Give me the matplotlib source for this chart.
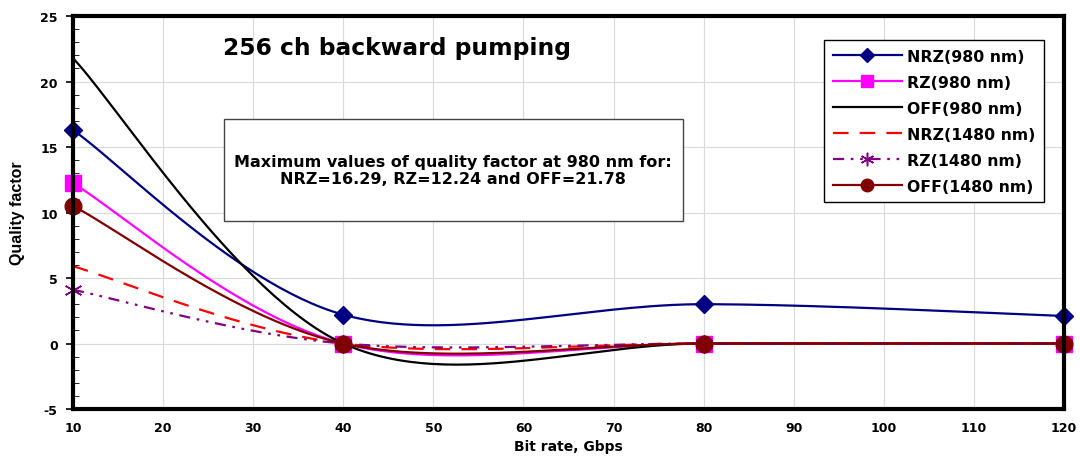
import numpy as np
import matplotlib.pyplot as plt
from matplotlib.patches import Rectangle

plt.rcParams['font.family'] = ['DejaVu Sans']
plt.rcParams['font.weight'] = 'bold'
plt.rcParams['axes.unicode_minus'] = False

# Bit rates (Gbps) and Q-factor for each modulation / pump wavelength
bit_rate = [10, 40, 80, 120]
nrz_980 = [16.29, 2.2, 3.0, 2.1]
rz_980 = [12.24, 0.0, 0.0, 0.0]
off_980 = [21.78, 0.0, 0.0, 0.0]
nrz_1480 = [5.9, 0.0, 0.0, 0.0]
rz_1480 = [4.1, 0.0, 0.0, 0.0]
off_1480 = [10.5, 0.0, 0.0, 0.0]

labels = ['NRZ(980 nm)', 'RZ(980 nm)', 'OFF(980 nm)',
          'NRZ(1480 nm)', 'RZ(1480 nm)', 'OFF(1480 nm)']


def smooth(xs, ys, n=60):
    """Spreadsheet-style smoothed line: cubic Bezier through each point."""
    p = np.column_stack([xs, ys]).astype(float)
    p_ext = np.vstack([p[0], p, p[-1]])
    out = []
    for i in range(len(p) - 1):
        p0, p1, p2, p3 = p_ext[i], p_ext[i + 1], p_ext[i + 2], p_ext[i + 3]
        c1 = p1 + (p2 - p0) / 6.0
        c2 = p2 - (p3 - p1) / 6.0
        t = np.linspace(0, 1, n, endpoint=False)[:, None]
        seg = ((1 - t) ** 3 * p1 + 3 * (1 - t) ** 2 * t * c1
               + 3 * (1 - t) * t ** 2 * c2 + t ** 3 * p2)
        out.append(seg)
    out.append(p[-1:])
    curve = np.vstack(out)
    marks = list(range(0, n * (len(p) - 1) + 1, n))
    return curve[:, 0], curve[:, 1], marks


fig = plt.figure(figsize=(10.8, 4.6), dpi=100)
ax = fig.add_axes([0.0676, 0.1087, 0.9176, 0.8543])

styles = [
    dict(color='#000080', marker='D', ms=9, ls='-', mew=1),
    dict(color='#ff00ff', marker='s', ms=11, ls='-', mew=1),
    dict(color='black', marker=None, ms=0, ls='-', mew=1),
    dict(color='#ff0000', marker=None, ms=0, ls=(0, (7, 5)), mew=1),
    dict(color='#800080', marker=(6, 2, 0), ms=13, ls=(0, (5, 3, 1.2, 3, 1.2, 3)), mew=1.1),
    dict(color='#800000', marker='o', ms=12, ls='-', mew=1),
]
series = [nrz_980, rz_980, off_980, nrz_1480, rz_1480, off_1480]

for ys, lab, st in zip(series, labels, styles):
    cx, cy, marks = smooth(bit_rate, ys)
    ax.plot(cx, cy, color=st['color'], ls=st['ls'], lw=1.6,
            marker=st['marker'], markersize=st['ms'], markevery=marks,
            markeredgecolor=st['color'], markeredgewidth=st['mew'],
            label=lab, zorder=3, clip_on=False)

ax.set_xlim(10, 120)
ax.set_ylim(-5, 25)
ax.set_xticks(np.arange(10, 121, 10))
ax.set_yticks(np.arange(-5, 26, 5))
ax.set_yticks(np.arange(-5, 26, 1), minor=True)
ax.grid(True, color='#d9d9d9', lw=0.8)
ax.set_axisbelow(True)
ax.tick_params(axis='both', labelsize=9, width=1.2)
ax.tick_params(axis='y', which='major', direction='out', length=5, pad=6)
ax.tick_params(axis='y', which='minor', direction='in', length=4)
ax.tick_params(axis='x', which='major', length=0, pad=9)
for lbl in ax.get_xticklabels() + ax.get_yticklabels():
    lbl.set_fontweight('bold')
for sp in ax.spines.values():
    sp.set_linewidth(3)
    sp.set_zorder(4)

ax.set_xlabel('Bit rate, Gbps', fontsize=10, fontweight='bold', labelpad=3)
ax.set_ylabel('Quality factor', fontsize=11.5, fontweight='bold',
              family=['Liberation Sans Narrow', 'Liberation Sans'], labelpad=11)

fig.text(397 / 1080, 1 - 48 / 460, '256 ch backward pumping', fontsize=16.8,
         fontweight='bold', ha='center', va='center')

fig.patches.append(Rectangle((224 / 1080, 1 - 222 / 460), 459 / 1080, 102 / 460,
                             transform=fig.transFigure, facecolor='white',
                             edgecolor='#444444', lw=1, zorder=5))
fig.text(453 / 1080, 1 - 171 / 460,
         'Maximum values of quality factor at 980 nm for:\nNRZ=16.29, RZ=12.24 and OFF=21.78',
         fontsize=11.5, fontweight='bold', ha='center', va='center',
         linespacing=1.15, zorder=6)

leg = ax.legend(loc='upper left', bbox_to_anchor=(824 / 1080, 1 - 41 / 460),
                bbox_transform=fig.transFigure, fancybox=False,
                edgecolor='black', framealpha=1, fontsize=11.3,
                labelspacing=0.7, handlelength=4.4, borderpad=0.55,
                handletextpad=0.35, borderaxespad=0, markerscale=0.75)
leg.get_frame().set_linewidth(1)
for t in leg.get_texts():
    t.set_fontweight('bold')

fig.savefig('out.png', dpi=100)
